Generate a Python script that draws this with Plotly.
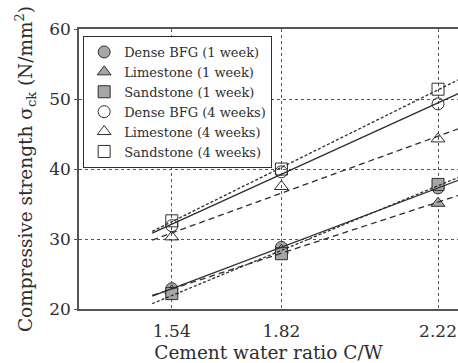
import numpy as np
import plotly.graph_objects as go

# ---- data ----
cw = [1.54, 1.82, 2.22]
x_tick_labels = ["1.54", "1.82", "2.22"]
y_ticks = [20, 30, 40, 50, 60]

bfg_1w = [22.9, 28.8, 37.3]
lime_1w = [22.6, 28.4, 35.1]
sand_1w = [22.2, 27.9, 37.8]
bfg_4w = [31.9, 39.6, 49.3]
lime_4w = [30.3, 37.5, 44.3]
sand_4w = [32.6, 40.0, 51.4]

names_1w = ["Dense BFG (1 week)", "Limestone (1 week)", "Sandstone (1 week)"]
names_4w = ["Dense BFG (4 weeks)", "Limestone (4 weeks)", "Sandstone (4 weeks)"]

# ---- styles ----
FONT = "DejaVu Serif, Liberation Serif, serif"
INK = "#2e2e2e"
GREY = "#a6a6a6"
symbols_1w = ["circle", "triangle-up", "square"]
symbols_4w = ["circle-open", "triangle-up-open", "square-open"]
dashes = ["solid", "6px,4px", "3px,2px"]
line_extent = [1.49, 2.30]

fig = go.Figure()

series_1w = [bfg_1w, lime_1w, sand_1w]
series_4w = [bfg_4w, lime_4w, sand_4w]

# filled 1-week markers (bottom layer)
for name, ys, sym in zip(names_1w, series_1w, symbols_1w):
    fig.add_trace(go.Scatter(
        x=cw, y=ys, mode="markers", name=name,
        marker=dict(symbol=sym, size=12, color=GREY,
                    line=dict(color=INK, width=1)),
    ))

# regression lines
for ys, dash in zip(series_1w + series_4w, dashes + dashes):
    k, b = np.polyfit(cw, ys, 1)
    xs = np.array(line_extent)
    fig.add_trace(go.Scatter(
        x=xs, y=k * xs + b, mode="lines", showlegend=False,
        line=dict(color=INK, width=1.3, dash=dash), hoverinfo="skip",
    ))

# open 4-week markers
for name, ys, sym in zip(names_4w, series_4w, symbols_4w):
    fig.add_trace(go.Scatter(
        x=cw, y=ys, mode="markers", name=name,
        marker=dict(symbol=sym, size=12, color=INK,
                    line=dict(color=INK, width=1)),
    ))

fig.update_layout(
    width=458, height=363,
    margin=dict(l=79, r=0, t=29, b=54),
    paper_bgcolor="white", plot_bgcolor="white",
    font=dict(family=FONT, color=INK),
    legend=dict(
        x=0.011, y=0.975, xanchor="left", yanchor="top",
        bordercolor=INK, borderwidth=1, bgcolor="white",
        font=dict(family=FONT, size=13, color=INK),
        itemsizing="trace", tracegroupgap=0,
    ),
    xaxis=dict(
        range=[1.303, 2.271],
        tickvals=cw, ticktext=x_tick_labels,
        tickfont=dict(family=FONT, size=17, color=INK),
        showline=True, linecolor="#555", linewidth=1.5, mirror=True,
        showgrid=True, gridcolor="#555", griddash="dot", gridwidth=1,
        zeroline=False, ticks="", ticklabelstandoff=6,
        title=dict(text="Cement water ratio C/W",
                   font=dict(family=FONT, size=18.5, color=INK), standoff=8),
    ),
    yaxis=dict(
        range=[20, 60],
        tickvals=y_ticks,
        tickfont=dict(family=FONT, size=17, color=INK),
        showline=True, linecolor="#555", linewidth=1.5,
        showgrid=True, gridcolor="#555", griddash="dot", gridwidth=1,
        zeroline=False, ticks="outside", ticklen=3, tickcolor="#555",
        title=dict(text="Compressive strength σ<sub>ck</sub> (N/mm<sup>2</sup>)",
                   font=dict(family=FONT, size=18.5, color=INK), standoff=12),
    ),
)

fig.write_html("out.html")
